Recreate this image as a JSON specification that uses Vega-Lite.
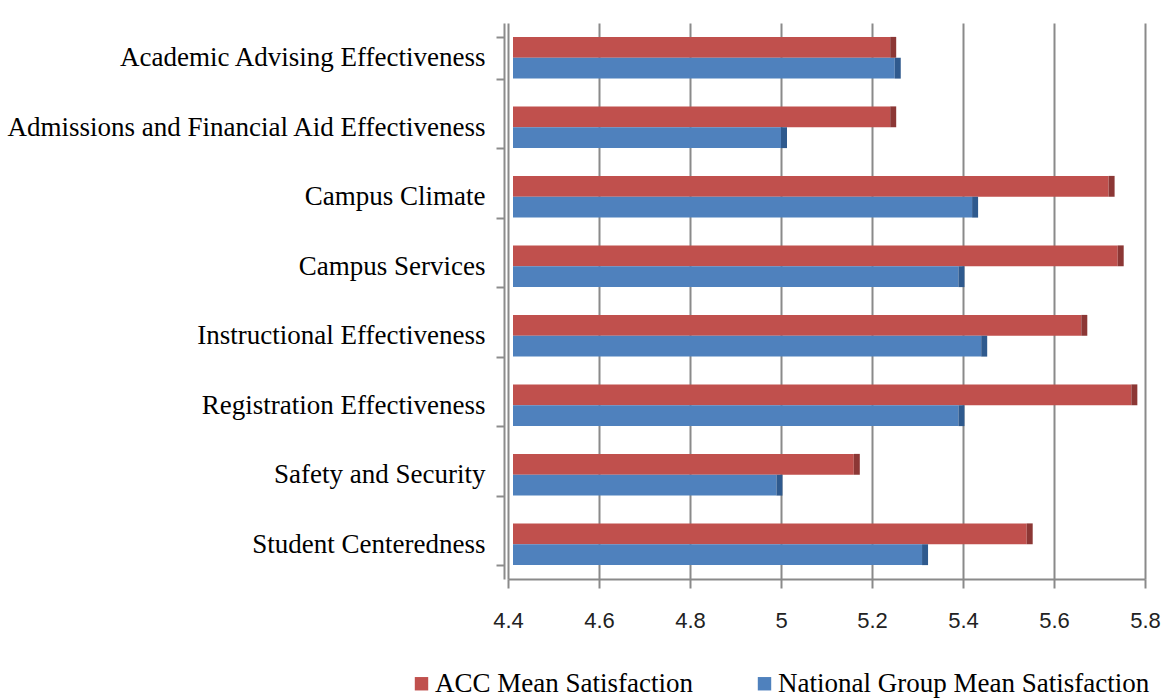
{
  "$schema": "https://vega.github.io/schema/vega-lite/v6.json",
  "autosize": "none",
  "width": 637,
  "height": 556,
  "padding": {"left": 508, "top": 23, "right": 20, "bottom": 119},
  "background": "white",
  "config": {"view": {"stroke": null}},
  "data": {"values": [
    {"Category": "Academic Advising Effectiveness", "Series": "ACC Mean Satisfaction", "Value": 5.24},
    {"Category": "Academic Advising Effectiveness", "Series": "National Group Mean Satisfaction", "Value": 5.25},
    {"Category": "Admissions and Financial Aid Effectiveness", "Series": "ACC Mean Satisfaction", "Value": 5.24},
    {"Category": "Admissions and Financial Aid Effectiveness", "Series": "National Group Mean Satisfaction", "Value": 5.0},
    {"Category": "Campus Climate", "Series": "ACC Mean Satisfaction", "Value": 5.72},
    {"Category": "Campus Climate", "Series": "National Group Mean Satisfaction", "Value": 5.42},
    {"Category": "Campus Services", "Series": "ACC Mean Satisfaction", "Value": 5.74},
    {"Category": "Campus Services", "Series": "National Group Mean Satisfaction", "Value": 5.39},
    {"Category": "Instructional Effectiveness", "Series": "ACC Mean Satisfaction", "Value": 5.66},
    {"Category": "Instructional Effectiveness", "Series": "National Group Mean Satisfaction", "Value": 5.44},
    {"Category": "Registration Effectiveness", "Series": "ACC Mean Satisfaction", "Value": 5.77},
    {"Category": "Registration Effectiveness", "Series": "National Group Mean Satisfaction", "Value": 5.39},
    {"Category": "Safety and Security", "Series": "ACC Mean Satisfaction", "Value": 5.16},
    {"Category": "Safety and Security", "Series": "National Group Mean Satisfaction", "Value": 4.99},
    {"Category": "Student Centeredness", "Series": "ACC Mean Satisfaction", "Value": 5.54},
    {"Category": "Student Centeredness", "Series": "National Group Mean Satisfaction", "Value": 5.31}
  ]},
  "encoding": {
    "y": {
      "field": "Category", "type": "nominal", "sort": null,
      "scale": {"paddingInner": 0.4, "paddingOuter": 0.2},
      "axis": {
        "title": null, "tickBand": "extent", "offset": 4,
        "domainColor": "#8c8c8c", "domainWidth": 2, "tickColor": "#8c8c8c", "tickWidth": 2, "tickSize": 8,
        "labelFont": "Liberation Serif", "labelFontSize": 27, "labelColor": "#000000",
        "labelPadding": 11, "labelLimit": 520, "grid": false
      }
    },
    "yOffset": {"field": "Series", "type": "nominal", "sort": ["ACC Mean Satisfaction", "National Group Mean Satisfaction"]},
    "x": {
      "field": "Value", "type": "quantitative",
      "scale": {"domain": [4.4, 5.8], "zero": false, "nice": false},
      "axis": {
        "title": null, "values": [4.4, 4.6, 4.8, 5.0, 5.2, 5.4, 5.6, 5.8],
        "labelExpr": "format(datum.value, '.1~f')",
        "grid": true, "gridColor": "#8a8a8a", "gridWidth": 2,
        "domainColor": "#8a8a8a", "domainWidth": 2, "tickColor": "#8a8a8a", "tickWidth": 2, "tickSize": 9,
        "labelFont": "Liberation Sans", "labelFontSize": 22, "labelColor": "#222222",
        "labelPadding": 22, "labelFlush": false
      }
    }
  },
  "layer": [
    {
      "mark": {"type": "bar", "x2Offset": 5, "yOffset": -4},
      "encoding": {
        "x2": {"datum": 4.4},
        "color": {
          "field": "Series", "type": "nominal",
          "scale": {"domain": ["ACC Mean Satisfaction", "National Group Mean Satisfaction"], "range": ["#C0504D", "#4F81BD"]},
          "legend": {
            "title": null, "orient": "none", "direction": "horizontal", "legendX": -100, "legendY": 647,
            "symbolType": "square", "symbolSize": 180, "symbolStrokeWidth": 0, "symbolOpacity": 1,
            "labelFont": "Liberation Serif", "labelFontSize": 27, "labelColor": "#000000",
            "labelLimit": 500, "columnPadding": 58, "labelOffset": 0
          }
        }
      }
    },
    {
      "mark": {"type": "bar", "x2Offset": 6, "yOffset": -4},
      "encoding": {
        "x2": {"field": "Value"},
        "color": {
          "field": "Series", "type": "nominal",
          "scale": {"domain": ["ACC Mean Satisfaction", "National Group Mean Satisfaction"], "range": ["#8C3735", "#2F5A8E"]},
          "legend": null
        }
      }
    }
  ],
  "resolve": {"scale": {"color": "independent"}}
}
